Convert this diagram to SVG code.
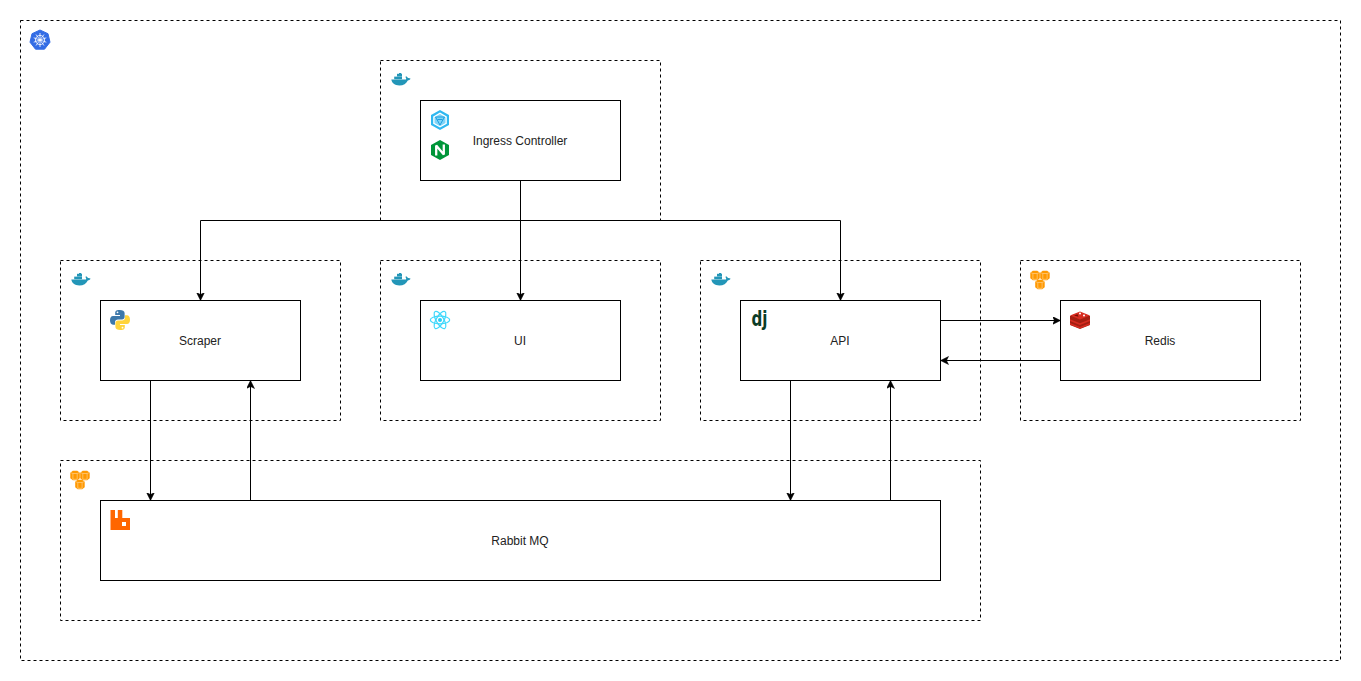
<svg xmlns="http://www.w3.org/2000/svg" width="1361" height="681" viewBox="0 0 1361 681">
<style>
.box{fill:#fff;stroke:#000;stroke-width:1}
.zone{fill:none;stroke:#000;stroke-width:1;stroke-dasharray:3 3}
.lbl{font-family:"Liberation Sans",Arial,sans-serif;font-size:12px;fill:#222;text-anchor:middle}
.wire{fill:none;stroke:#000;stroke-width:1;marker-end:url(#arrow)}
</style>
<defs>
<marker id="arrow" markerUnits="userSpaceOnUse" markerWidth="10" markerHeight="10" refX="8" refY="4" orient="auto">
<path d="M0 0 L8 4 L0 8 L2 4 Z" fill="#000" stroke="#000" stroke-width="0.5"/>
</marker>
<symbol id="docker" viewBox="0 0 20 13" overflow="visible">
<path fill="#2396b8" d="M0.3 6.6 H15 C15.4 5.6 15 4.6 14.3 4.1 L15.2 3.2 C16.2 3.8 16.8 4.6 17 5.1 C18 5 19 5.2 19.6 5.8 C18.8 7 17.8 7.4 16.8 7.4 C15.4 10.5 12.4 12.4 8.4 12.4 C3.6 12.4 1 10.4 0.3 6.6 Z"/>
<rect fill="#2396b8" x="3.2" y="3.6" width="7.8" height="2.6"/>
<rect fill="#2396b8" x="6" y="0.8" width="5" height="2.7"/>
<rect fill="#2396b8" x="8" y="0" width="2.2" height="1"/>
</symbol>
<path id="cyl" d="M0 2.2 L2.5 0.2 H7 L9.5 2.2 V7.8 L7 9.8 H2.5 L0 7.8 Z" fill="#f90"/>
<path id="cyl-mark" d="M2.6 3 H6.9 V8.8 H2.6 Z M2.6 3 L0.6 2.2 M6.9 3 L8.9 2.2" fill="none" stroke="#ffd08a" stroke-width="0.7"/>
<symbol id="bucket" viewBox="0 0 20 20" overflow="visible">
<use href="#cyl" x="0.3" y="0.5"/><use href="#cyl-mark" x="0.3" y="0.5"/>
<use href="#cyl" x="10.2" y="0.5"/><use href="#cyl-mark" x="10.2" y="0.5"/>
<use href="#cyl" x="5.2" y="9.5"/><use href="#cyl-mark" x="5.2" y="9.5"/>
</symbol>
</defs>

<g id="connectors">
<path class="wire" d="M520.5 180.5 V220.5 H200.5 V300.5"/>
<path class="wire" d="M520.5 180.5 V300.5"/>
<path class="wire" d="M520.5 180.5 V220.5 H840.5 V300.5"/>
<path class="wire" d="M940.5 320.5 H1060.5"/>
<path class="wire" d="M1060.5 360.5 H940.5"/>
<path class="wire" d="M150.5 380.5 V500.5"/>
<path class="wire" d="M250.5 500.5 V380.5"/>
<path class="wire" d="M790.5 380.5 V500.5"/>
<path class="wire" d="M890.5 500.5 V380.5"/>
</g>

<g id="cluster">
<rect class="zone" x="20.5" y="20.5" width="1320" height="640"/>
<g transform="translate(40,40)">
<path fill="#326ce5" d="M0 -10 L8 -6.3 L10 2.2 L4.5 9.2 L-4.5 9.2 L-10 2.2 L-8 -6.3 Z" stroke="#326ce5" stroke-width="1" stroke-linejoin="round"/>
<g fill="none" stroke="#fff" stroke-width="0.8">
<circle r="4.6"/>
<path d="M0 -7V7M-6.3 -2.2L6.3 2.2M-6.3 2.2L6.3 -2.2M-4 -5.5L4 5.5M4 -5.5L-4 5.5"/>
</g>
</g>
</g>

<g id="ingress-zone">
<rect class="zone" x="380.5" y="60.5" width="280" height="160"/>
<use href="#docker" x="391" y="73" width="20" height="13"/>
</g>
<g id="scraper-zone">
<rect class="zone" x="60.5" y="260.5" width="280" height="160"/>
<use href="#docker" x="71" y="273" width="20" height="13"/>
</g>
<g id="ui-zone">
<rect class="zone" x="380.5" y="260.5" width="280" height="160"/>
<use href="#docker" x="391" y="273" width="20" height="13"/>
</g>
<g id="api-zone">
<rect class="zone" x="700.5" y="260.5" width="280" height="160"/>
<use href="#docker" x="711" y="273" width="20" height="13"/>
</g>
<g id="redis-zone">
<rect class="zone" x="1020.5" y="260.5" width="280" height="160"/>
<use href="#bucket" x="1030" y="270" width="20" height="20"/>
</g>
<g id="rabbit-zone">
<rect class="zone" x="60.5" y="460.5" width="920" height="160"/>
<use href="#bucket" x="70" y="470" width="20" height="20"/>
</g>

<g id="ingress-controller">
<rect class="box" x="420.5" y="100.5" width="200" height="80"/>
<path fill="#2fb8f0" d="M440 110 L449 115 V125 L440 130 L431 125 V115 Z"/>
<path fill="#fff" d="M440 112.6 L446.8 116.4 V123.8 L440 127.6 L433.2 123.8 V116.4 Z"/>
<path fill="#7fd4f7" d="M440 114 L445.5 117.2 V123 L440 126.2 L434.5 123 V117.2 Z"/>
<path fill="none" stroke="#1f9fe0" stroke-width="1" d="M435.5 117 H444.5 L440 125 Z M437.5 119.5 H442.5"/>
<path fill="#009639" d="M440 140 L449 145 V155 L440 160 L431 155 V145 Z"/>
<path fill="none" stroke="#fff" stroke-width="2.3" stroke-linejoin="bevel" d="M436.2 155.5 V145.5 L443.8 154.5 V144.5"/>
<text class="lbl" x="520" y="144.5">Ingress Controller</text>
</g>

<g id="scraper">
<rect class="box" x="100.5" y="300.5" width="200" height="80"/>
<path fill="#3c78aa" d="M119.7 310 C115.5 310 115.2 311.7 115.2 313 V315 H120 V316 H113 C111 316 110 317.8 110 320.3 C110 323 111.2 324.7 113 324.7 H115 V322.2 C115 320.6 116.3 319.5 118 319.5 H122 C123.5 319.5 124.6 318.4 124.6 317 V313 C124.6 311 122.6 310 119.7 310 Z"/>
<path fill="#ffd43b" d="M120.3 330 C124.5 330 124.8 328.3 124.8 327 V325 H120 V324 H127 C129 324 130 322.2 130 319.7 C130 317 128.8 315.3 127 315.3 H125 V317.8 C125 319.4 123.7 320.5 122 320.5 H118 C116.5 320.5 115.4 321.6 115.4 323 V327 C115.4 329 117.4 330 120.3 330 Z"/>
<circle cx="117.5" cy="312.3" r="0.9" fill="#fff"/>
<circle cx="122.5" cy="327.7" r="0.9" fill="#fff"/>
<text class="lbl" x="200" y="344.5">Scraper</text>
</g>

<g id="ui">
<rect class="box" x="420.5" y="300.5" width="200" height="80"/>
<g fill="none" stroke="#40d8fb" stroke-width="1.2">
<ellipse cx="440" cy="320" rx="9.7" ry="3.8"/>
<ellipse cx="440" cy="320" rx="9.7" ry="3.8" transform="rotate(60 440 320)"/>
<ellipse cx="440" cy="320" rx="9.7" ry="3.8" transform="rotate(120 440 320)"/>
</g>
<circle cx="440" cy="320" r="2" fill="#29cdf5"/>
<text class="lbl" x="520" y="344.5">UI</text>
</g>

<g id="api">
<rect class="box" x="740.5" y="300.5" width="200" height="80"/>
<text x="751.5" y="326" font-family="'DejaVu Sans',sans-serif" font-size="22" font-weight="700" fill="#0c3c26" textLength="16" lengthAdjust="spacingAndGlyphs">dj</text>
<text class="lbl" x="840" y="344.5">API</text>
</g>

<g id="redis">
<rect class="box" x="1060.5" y="300.5" width="200" height="80"/>
<path fill="#a41e11" d="M1070 316 L1080 312.5 L1090 316 V325 L1080 329 L1070 325 Z"/>
<path fill="#d82c20" d="M1070 315.5 L1080 311.5 L1090 315.5 L1080 319.5 Z"/>
<path fill="#d82c20" d="M1070 319.3 L1080 323.2 L1090 319.3 V321 L1080 325 L1070 321 Z"/>
<path fill="#d82c20" d="M1070 323 L1080 327 L1090 323 V324.7 L1080 328.6 L1070 324.7 Z"/>
<circle cx="1080" cy="313.5" r="1" fill="#fff"/>
<circle cx="1084" cy="315.5" r="1" fill="#fff"/>
<path fill="#7a0c00" d="M1074 315.5 L1077.5 314.3 L1078.5 316.8 Z"/>
<text class="lbl" x="1160" y="344.5">Redis</text>
</g>

<g id="rabbit-mq">
<rect class="box" x="100.5" y="500.5" width="840" height="80"/>
<path fill="#f60" fill-rule="evenodd" d="M110.5 510 H115 V518 H117.8 V510 H122.3 V518 H130 V530 H110.5 Z M122 522 V526 H126 V522 Z"/>
<text class="lbl" x="520" y="544.5">Rabbit MQ</text>
</g>
</svg>
